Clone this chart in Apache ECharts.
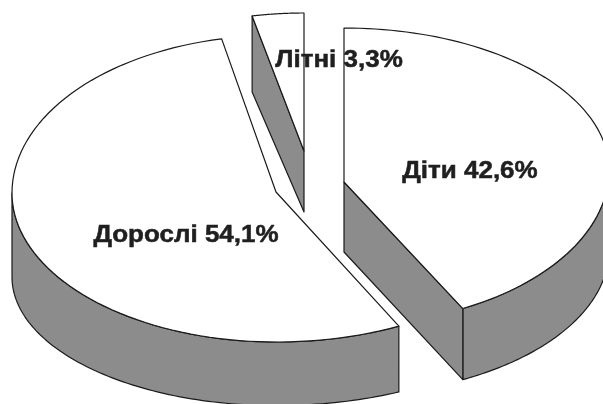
<!DOCTYPE html>
<html>
<head>
<meta charset="utf-8">
<style>
  html, body { margin: 0; padding: 0; background: #fff; }
  #chart { width: 603px; height: 404px; }
</style>
<script src="https://cdn.jsdelivr.net/npm/echarts@6/dist/echarts.min.js"></script>
</head>
<body>
<div id="chart"></div>
<script>
const categories = ["Діти", "Дорослі", "Літні"];
const shares = [42.6, 54.1, 3.3];

// Projection of each exploded slice; the picture is an uneven perspective, so upper and lower halves differ
const sliceLayout = [
  { cx: 344, cy: 170, aL: 265, aR: 265, bT: 142, bB: 155, lowCy: 250, lowBT: 142, lowBB: 145, apexX: 344, apexY: 182, apexLowY: 252, wall: [90, null], side: "end" },
  { cx: 276, cy: 193, aL: 264, aR: 274, bT: 157.5, bB: 149, lowCy: 277, lowBT: 157, lowBB: 128.6, apexX: 276, apexY: 192, apexLowY: 262, wall: [null, 270], side: null },
  { cx: 304, cy: 151, aL: 252, aR: 252, bT: 138, bB: 138, lowCy: 227, lowBT: 138, lowBB: 138, apexX: 304, apexY: 151, apexLowY: 212, wall: null, side: "start" }
];
const drawOrder = [2, 1, 0];
const labelAnchors = [[470, 171.5], [186, 236], [339, 60.5]];

const LINE = "#1a1a1a";
const GREY = "#8c8c8c";
const STEPS = 90;

const total = shares.reduce((a, b) => a + b, 0);
const bounds = [];
let acc = 0;
shares.forEach((v) => {
  const start = (acc / total) * 2 * Math.PI;
  acc += v;
  bounds.push([start, (acc / total) * 2 * Math.PI]);
});

function rimPoint(l, t, low) {
  const s = Math.sin(t);
  const c = Math.cos(t);
  const y0 = low ? l.lowCy : l.cy;
  const bT = low ? l.lowBT : l.bT;
  const bB = low ? l.lowBB : l.bB;
  return [l.cx + s * (s < 0 ? l.aL : l.aR), y0 - c * (c > 0 ? bT : bB)];
}

function rimArc(l, from, to, low) {
  const pts = [];
  for (let i = 0; i <= STEPS; i++) pts.push(rimPoint(l, from + ((to - from) * i) / STEPS, low));
  return pts;
}

function poly(api, pts, fill) {
  return {
    type: "polygon",
    shape: { points: pts.map((p) => api.coord(p)) },
    style: { fill: fill, stroke: LINE, lineWidth: 1.2, lineJoin: "round" }
  };
}

const chart = echarts.init(document.getElementById("chart"), null, { renderer: "canvas" });

chart.setOption({
  animation: false,
  backgroundColor: "#fff",
  grid: { left: 0, right: 0, top: 0, bottom: 0 },
  xAxis: { type: "value", min: 0, max: 603, show: false },
  yAxis: { type: "value", min: 0, max: 404, inverse: true, show: false },
  series: [
    {
      type: "custom",
      coordinateSystem: "cartesian2d",
      clip: true,
      data: drawOrder.map((i) => [i, shares[i]]),
      encode: { x: 0, y: 1 },
      renderItem: (params, api) => {
        const i = api.value(0);
        const l = sliceLayout[i];
        const [a0, a1] = bounds[i];
        const children = [];
        if (l.wall) {
          const from = l.wall[0] === null ? a0 : (l.wall[0] * Math.PI) / 180;
          const to = l.wall[1] === null ? a1 : (l.wall[1] * Math.PI) / 180;
          children.push(poly(api, rimArc(l, from, to, false).concat(rimArc(l, to, from, true)), GREY));
        }
        if (l.side) {
          const t = l.side === "start" ? a0 : a1;
          children.push(poly(api, [[l.apexX, l.apexY], rimPoint(l, t, false), rimPoint(l, t, true), [l.apexX, l.apexLowY]], GREY));
        }
        children.push(poly(api, [[l.apexX, l.apexY]].concat(rimArc(l, a0, a1, false)), "#fff"));
        return { type: "group", children: children };
      }
    },
    {
      type: "custom",
      coordinateSystem: "cartesian2d",
      clip: false,
      z: 10,
      data: categories.map((c, i) => [i, shares[i]]),
      encode: { x: 0, y: 1 },
      renderItem: (params, api) => {
        const i = api.value(0);
        const pos = api.coord(labelAnchors[i]);
        return {
          type: "text",
          x: pos[0],
          y: pos[1],
          scaleX: 1.13,
          style: {
            text: categories[i] + " " + String(shares[i]).replace(".", ",") + "%",
            x: 0,
            y: 0,
            fill: "#1f1f1f",
            stroke: "#1f1f1f",
            lineWidth: 0.5,
            font: 'bold 23px "Liberation Sans", Arial, sans-serif',
            textAlign: "center",
            textVerticalAlign: "middle"
          }
        };
      }
    }
  ]
});
</script>
</body>
</html>
